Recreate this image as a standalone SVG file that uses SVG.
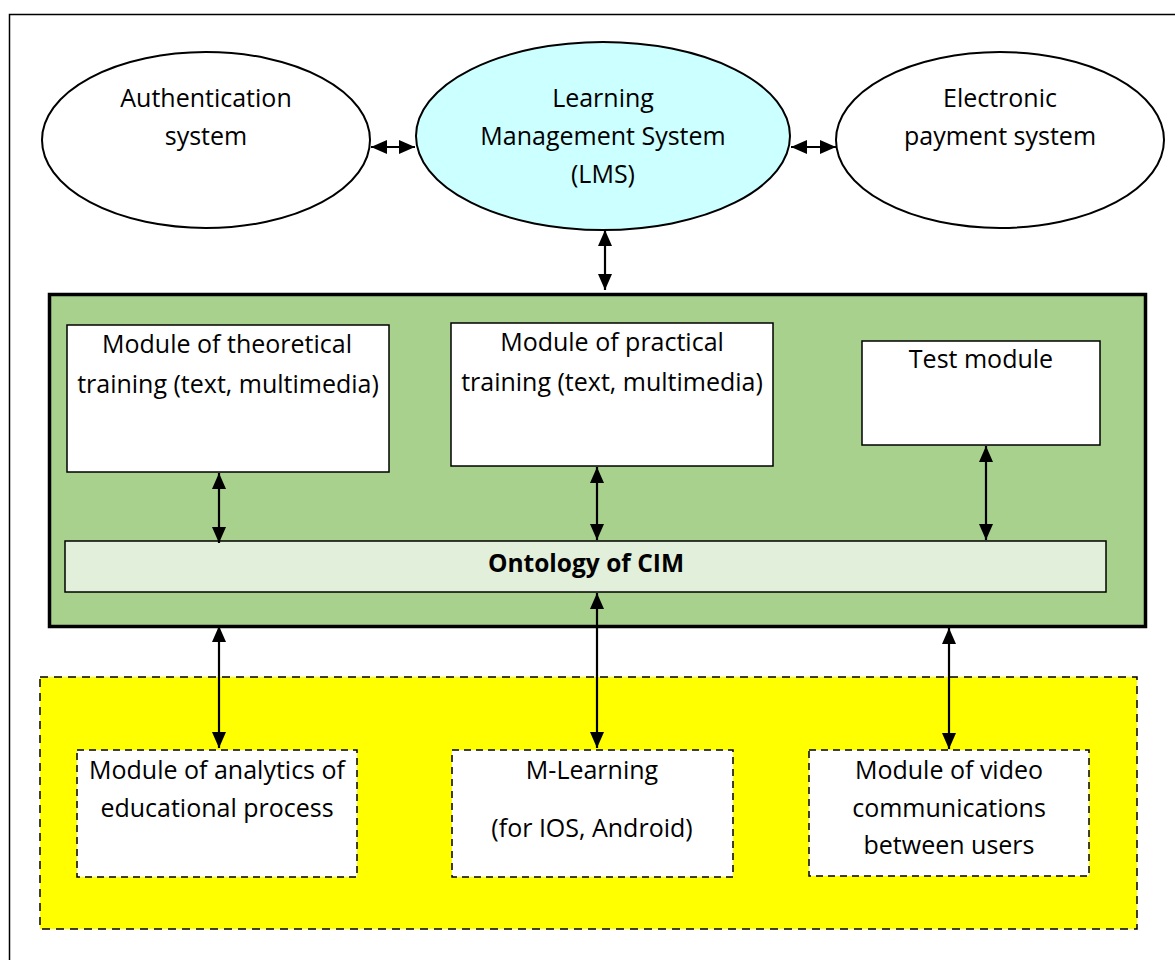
<svg xmlns="http://www.w3.org/2000/svg" width="1175" height="960" viewBox="0 0 1175 960">
<defs>
<marker id="ah" viewBox="0 0 16 14" refX="16" refY="7" markerWidth="16" markerHeight="14" markerUnits="userSpaceOnUse" orient="auto-start-reverse">
<path d="M0,0 L16,7 L0,14 Z" fill="#000"/>
</marker>
</defs>
<style>
text{font-family:"Open Sans","Liberation Sans",sans-serif;font-size:25px;fill:#000;text-anchor:middle}
.b{font-weight:bold;font-size:24.5px}
.el{stroke:#000;stroke-width:2}
.box{fill:#fff;stroke:#000;stroke-width:1.5}
.dbox{fill:#fff;stroke:#000;stroke-width:1.5;stroke-dasharray:7,5}
.c{stroke:#000;stroke-width:2.2;fill:none;marker-start:url(#ah);marker-end:url(#ah)}
</style>
<rect x="0" y="0" width="1175" height="960" fill="#fff"/>
<rect x="9.5" y="14.5" width="1180" height="960" fill="none" stroke="#000" stroke-width="1.5"/>

<g id="auth">
<ellipse class="el" cx="206" cy="140" rx="164" ry="88" fill="#fff"/>
<text x="206" y="107">Authentication</text>
<text x="206" y="145">system</text>
</g>
<g id="lms">
<ellipse class="el" cx="603" cy="136" rx="187" ry="94" fill="#ccffff"/>
<text x="603" y="107">Learning</text>
<text x="603" y="145">Management System</text>
<text x="603" y="183">(LMS)</text>
</g>
<g id="payment">
<ellipse class="el" cx="1000" cy="140" rx="164" ry="88" fill="#fff"/>
<text x="1000" y="107">Electronic</text>
<text x="1000" y="145">payment system</text>
</g>

<g id="core">
<rect x="49.5" y="294.5" width="1096" height="332" fill="#a9d18e" stroke="#000" stroke-width="3.5"/>
</g>
<g id="theory">
<rect class="box" x="67" y="325" width="322" height="147"/>
<text x="227" y="353">Module of theoretical</text>
<text x="228" y="393">training (text, multimedia)</text>
</g>
<g id="practice">
<rect class="box" x="451" y="323" width="322" height="143"/>
<text x="612" y="351">Module of practical</text>
<text x="612" y="391">training (text, multimedia)</text>
</g>
<g id="test">
<rect class="box" x="862" y="341" width="238" height="104"/>
<text x="981" y="368">Test module</text>
</g>
<g id="ontology">
<rect x="65" y="541" width="1041" height="51" fill="#e2efda" stroke="#000" stroke-width="1.5"/>
<text class="b" x="586" y="572">Ontology of CIM</text>
</g>

<g id="ext">
<rect x="40" y="677" width="1097" height="252" fill="#ffff00" stroke="#000" stroke-width="1.5" stroke-dasharray="8,6"/>
</g>
<g id="analytics">
<rect class="dbox" x="77" y="750" width="280" height="127"/>
<text x="217" y="779">Module of analytics of</text>
<text x="217" y="817">educational process</text>
</g>
<g id="mlearning">
<rect class="dbox" x="452" y="750" width="281" height="127"/>
<text x="592" y="779">M-Learning</text>
<text x="592" y="837">(for IOS, Android)</text>
</g>
<g id="video">
<rect class="dbox" x="809" y="750" width="280" height="126"/>
<text x="949" y="779">Module of video</text>
<text x="949" y="817">communications</text>
<text x="949" y="854">between users</text>
</g>

<g id="connectors">
<line class="c" x1="371" y1="147" x2="415" y2="147"/>
<line class="c" x1="791" y1="147" x2="836" y2="147"/>
<line class="c" x1="605" y1="230" x2="605" y2="290"/>
<line class="c" x1="219" y1="473" x2="219" y2="543"/>
<line class="c" x1="597" y1="467" x2="597" y2="540"/>
<line class="c" x1="986" y1="446" x2="986" y2="540"/>
<line class="c" x1="219" y1="626" x2="219" y2="748"/>
<line class="c" x1="597" y1="593" x2="597" y2="748"/>
<line class="c" x1="949" y1="628" x2="949" y2="749"/>
</g>
</svg>
